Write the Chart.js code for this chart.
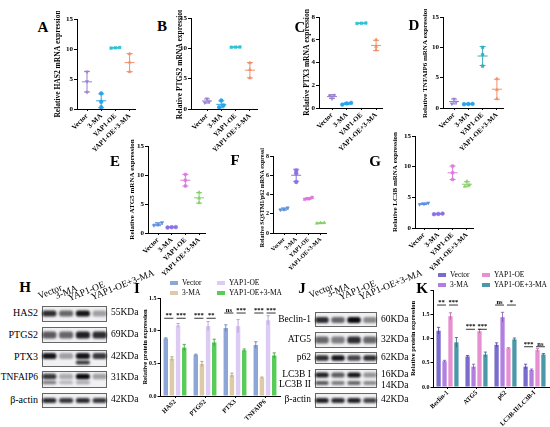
<!DOCTYPE html>
<html><head><meta charset="utf-8">
<script src="https://cdn.jsdelivr.net/npm/chart.js@4.4.1/dist/chart.umd.min.js"></script>
<style>
html,body{margin:0;padding:0;background:#fff;}
body{width:550px;height:427px;overflow:hidden;position:relative;font-family:'Liberation Serif','Times New Roman',serif;}
canvas{position:absolute;}
.t{position:absolute;white-space:nowrap;color:#000;line-height:1;}
.sw{position:absolute;}
</style></head><body>
<script>
// ---------- DATA ----------
const mrnaGroups = ['Vector','3-MA','YAP1-OE','YAP1-OE+3-MA'];
const has2Mrna    = [[6.2,4.6,2.8],[2.6,1.2,0.3],[10.25,10.2,10.15],[9.2,7.8,6.2]];
const ptgs2Mrna   = [[1.7,1.2,1.05],[1.4,0.6,0.3],[10.22,10.18,10.2],[7.6,6.5,5.1]];
const ptx3Mrna    = [[1.12,1.08,0.82],[0.3,0.4,0.45],[7.47,7.45,7.43],[6.0,5.4,5.1]];
const tnfaip6Mrna = [[1.5,1.0,0.7],[0.66,0.63,0.68],[10.0,8.8,6.9],[4.8,3.0,1.5]];
const atg5Mrna    = [[1.8,1.45,1.3],[1.0,0.95,1.02],[10.1,9.1,8.1],[7.0,6.0,5.2]];
const sqstm1Mrna  = [[2.62,2.45,2.4],[6.5,6.2,5.3],[3.7,3.55,3.5],[1.06,1.0,1.04]];
const lc3bMrna    = [[4.1,3.92,3.85],[2.3,2.25,2.35],[10.1,9.0,7.9],[7.6,7.0,6.8]];

const proteinCatsI = ['HAS2','PTGS2','PTX3','TNFAIP6'];
const vectorI = [0.88,0.63,1.04,0.78];
const maI     = [0.57,0.49,0.32,0.28];
const oeI     = [1.08,1.07,1.07,1.16];
const oemaI   = [0.74,0.82,0.70,0.62];
const sdI = [[0.01,0.01,0.05,0.05],[0.03,0.04,0.03,0.01],[0.03,0.07,0.10,0.07],[0.05,0.05,0.02,0.04]];
const sigI = [['**','***'],['***','**'],['ns','***'],['***','***']];
const sigLevelI = [1.19,1.19,1.27,1.27];

const proteinCatsK = ['Beclin-1','ATG5','p62','LC3B-II/LC3B-I'];
const vectorK = [1.16,0.63,0.87,0.42];
const maK     = [0.53,0.42,1.44,0.35];
const oeK     = [1.46,1.15,0.80,0.76];
const oemaK   = [0.92,0.67,0.98,0.67];
const sdK = [[0.07,0.02,0.04,0.05],[0.02,0.05,0.10,0.02],[0.07,0.04,0.01,0.03],[0.10,0.05,0.03,0.02]];
const sigK = [['**','***'],['***','***'],['ns','*'],['***','ns']];
const sigLevelK = [1.69,1.19,1.69,0.83];

// blot band intensities (lanes: Vector, 3-MA, YAP1-OE, YAP1-OE+3-MA)
const has2Band     = [0.85,0.6,0.95,0.35];
const ptgs2Band    = [0.65,0.6,0.9,0.85];
const ptx3Band     = [0.95,0.35,0.95,0.8];
const ptx3Lower    = [0,0,0.8,0];
const tnfaip6Band  = [0.8,0.3,1.0,0.35];
const tnfaip6Lower = [0.5,0.25,0.3,0];
const actinH       = [0.85,0.8,0.85,0.8];
const beclinBand   = [0.85,0.6,1.0,0.45];
const atg5Band     = [0.6,0.5,0.85,0.6];
const p62Band      = [0.85,0.95,0.75,0.85];
const lc3bIBand    = [0.9,0.65,0.95,0.4];
const lc3bIIBand   = [0.65,0.5,0.6,0.45];
const actinJ       = [0.9,0.85,0.9,0.75];

// ---------- STYLE ----------
const topColors = ['#9a80d0','#28a4ec','#2cc2d6','#f0906a'];
const midColors = ['#5b8fe0','#8c72e6','#e078e0','#86d068'];
const shapes = ['triangle','circle','rect','triangle'];
const colorsI = ['#8ca6d8','#dccaa8','#dccbf2','#58cc58'];
const errI    = ['#5a78b0','#a8926c','#a890d0','#2f9a2f'];
const colorsK = ['#7a6ccc','#b27ee0','#e690d2','#4a98a8'];
const errK    = ['#4a3ca0','#8050b0','#b8609f','#2a6878'];

const FONT = "'Liberation Serif','Times New Roman',serif";
Chart.defaults.font.family = FONT;
Chart.defaults.color = '#000';
Chart.defaults.animation = false;
Chart.defaults.responsive = false;
Chart.defaults.plugins.legend.display = false;
Chart.defaults.plugins.tooltip.enabled = false;

function mkCanvas(l,t,w,h){
  const c=document.createElement('canvas');
  c.width=w;c.height=h;
  c.style.left=l+'px';c.style.top=t+'px';c.style.width=w+'px';c.style.height=h+'px';
  document.body.appendChild(c);return c;
}
function T(s,x,y,o={}){
  const d=document.createElement('div');d.className='t';d.textContent=s;
  d.style.fontSize=(o.size||10)+'px';
  if(o.bold) d.style.fontWeight='bold';
  d.style.left=x+'px';d.style.top=y+'px';
  const tx=o.align==='r'?'-100%':(o.align==='c'?'-50%':'0');
  d.style.transform=`translate(${tx},-50%)`;
  document.body.appendChild(d);return d;
}
function R(s,x,y,size,rot){
  const d=document.createElement('div');d.className='t';d.textContent=s;
  d.style.fontSize=size+'px';
  d.style.left=x+'px';d.style.top=(y-size*0.85)+'px';
  d.style.transformOrigin='0 85%';
  d.style.transform=`rotate(${rot}deg)`;
  document.body.appendChild(d);
}
function swatch(x,y,c){
  const d=document.createElement('div');d.className='sw';
  d.style.left=x+'px';d.style.top=(y-2)+'px';d.style.width='8px';d.style.height='4px';d.style.background=c;
  document.body.appendChild(d);
}
const mean=a=>a.reduce((s,v)=>s+v,0)/a.length;
const sd=a=>{const m=mean(a);return Math.sqrt(a.reduce((s,v)=>s+(v-m)*(v-m),0)/(a.length-1));};
function line(ctx,x1,y1,x2,y2){ctx.beginPath();ctx.moveTo(x1,y1);ctx.lineTo(x2,y2);ctx.stroke();}

// jitter only where replicate values coincide
function jitter(r,thr){
  const idx=r.map((v,i)=>i).sort((a,b)=>r[a]-r[b]);
  const off=new Array(r.length).fill(0);
  let cl=[idx[0]];
  const flush=()=>{cl.forEach((k,j)=>{off[k]=(j-(cl.length-1)/2)*0.3;});};
  for(let i=1;i<idx.length;i++){
    if(r[idx[i]]-r[idx[i-1]]<thr) cl.push(idx[i]); else {flush();cl=[idx[i]];}
  }
  flush();return off;
}

function meanSdPlugin(reps,colors){
  return {id:'meanSd',afterDatasetsDraw(chart){
    const {ctx,scales:{x,y}}=chart;
    reps.forEach((r,i)=>{
      const m=mean(r),s=sd(r),px=x.getPixelForValue(i);
      ctx.save();ctx.strokeStyle=colors[i];ctx.lineWidth=1;
      line(ctx,px-5,y.getPixelForValue(m),px+5,y.getPixelForValue(m));
      if(s>0.02){
        const yt=y.getPixelForValue(m+s),yb=y.getPixelForValue(m-s);
        line(ctx,px,yt,px,yb);line(ctx,px-3,yt,px+3,yt);line(ctx,px-3,yb,px+3,yb);
      }
      ctx.restore();
    });
  }};
}

function scatterPanel(p){
  const a=p.area,tf=p.titleFont||7.5,lh=tf*1.2;
  const cl=Math.round(p.titleX-lh/2),ct=a.t-8,cr=a.r+6,cb=a.b+52;
  const cv=mkCanvas(cl,ct,cr-cl,cb-ct);
  const thr=p.yMax*0.03;
  const datasets=p.reps.map((r,gi)=>{
    const off=jitter(r,thr);
    return {data:r.map((v,k)=>({x:gi+off[k],y:v})),backgroundColor:p.colors[gi],borderColor:p.colors[gi],
      pointStyle:shapes[gi],pointRadius:1.9,pointBorderWidth:0.5,rotation:gi===0?180:0};
  });
  const tickF={size:p.tickFont||7,weight:'bold'};
  new Chart(cv,{type:'scatter',data:{datasets},options:{
    layout:{padding:{top:8,right:6,left:0,bottom:0}},
    scales:{
      x:{type:'linear',min:(a.l-p.xFirst)/p.xStep,max:(a.r-p.xFirst)/p.xStep,
        afterBuildTicks:s=>{s.ticks=mrnaGroups.map((c,i)=>({value:i}));},
        afterFit:s=>{s.height=52;},
        ticks:{autoSkip:false,minRotation:45,maxRotation:45,padding:1,font:{size:p.xFont||7,weight:'bold'},
          callback:v=>mrnaGroups[v]!==undefined?mrnaGroups[v]:''},
        grid:{display:true,drawOnChartArea:false,drawTicks:true,tickLength:2,color:'#000'},
        border:{color:'#000',width:1}},
      y:{min:0,max:p.yMax,
        afterFit:s=>{s.width=a.l-cl;},
        ticks:{stepSize:p.yStep,padding:1,font:tickF},
        title:{display:true,text:p.title,font:{size:tf,weight:'bold'},padding:0},
        grid:{display:true,drawOnChartArea:false,drawTicks:true,tickLength:3,color:'#000'},
        border:{color:'#000',width:1}}
    }}, plugins:[meanSdPlugin(p.reps,p.colors)]});
}

function barExtras(sds,errColors,sig,levels){
  return {id:'barExtras',afterDatasetsDraw(chart){
    const {ctx,scales:{y}}=chart;
    ctx.save();
    chart.data.datasets.forEach((ds,i)=>{
      chart.getDatasetMeta(i).data.forEach((bar,j)=>{
        const v=ds.data[j],s=sds[i][j];
        const yt=y.getPixelForValue(v+s),yb=y.getPixelForValue(Math.max(0,v-s));
        ctx.strokeStyle=errColors[i];ctx.lineWidth=0.8;
        line(ctx,bar.x,yb,bar.x,yt);line(ctx,bar.x-1.6,yt,bar.x+1.6,yt);
      });
    });
    ctx.strokeStyle='#000';ctx.fillStyle='#000';ctx.lineWidth=0.8;
    ctx.font=`bold 6.5px ${FONT}`;ctx.textAlign='center';ctx.textBaseline='bottom';
    sig.forEach((pair,j)=>{
      const yy=y.getPixelForValue(levels[j]);
      [[0,1],[2,3]].forEach(([a,b],k)=>{
        const xa=chart.getDatasetMeta(a).data[j].x,xb=chart.getDatasetMeta(b).data[j].x;
        line(ctx,xa-1.5,yy,xb+1.5,yy);
        ctx.fillText(pair[k],(xa+xb)/2,yy+0.5);
      });
    });
    ctx.restore();
  }};
}

function barPanel(p){
  const a=p.area,tf=6.5,lh=tf*1.2;
  const cl=Math.round(p.titleX-lh/2),ct=a.t-6,cr=a.r+3,cb=a.b+45;
  const cv=mkCanvas(cl,ct,cr-cl,cb-ct);
  new Chart(cv,{type:'bar',data:{labels:p.cats,datasets:p.series.map((d,i)=>({data:d,backgroundColor:p.colors[i],
    barPercentage:0.72,categoryPercentage:0.82}))},
    options:{layout:{padding:{top:6,right:3,left:0,bottom:0}},
    scales:{
      x:{offset:true,afterFit:s=>{s.height=45;},
        ticks:{autoSkip:false,minRotation:45,maxRotation:45,padding:0,font:{size:6.5,weight:'bold'}},
        grid:{display:true,offset:false,drawOnChartArea:false,drawTicks:true,tickLength:2,color:'#000'},
        border:{color:'#000',width:1}},
      y:{min:0,max:p.yMax,afterFit:s=>{s.width=a.l-cl;},
        ticks:{stepSize:0.5,padding:1,font:{size:6,weight:'bold'},callback:v=>(p.hideTop&&v===p.yMax)?'':v.toFixed(1)},
        title:{display:true,text:'Relative protein expression',font:{size:tf,weight:'bold'},padding:0},
        grid:{display:true,drawOnChartArea:false,drawTicks:true,tickLength:2.5,color:'#000'},
        border:{color:'#000',width:1}}
    }}, plugins:[barExtras(p.sds,p.err,p.sig,p.levels)]});
}

function blotPanel(p){
  const cl=p.l-1,w=p.r-p.l+2,h=p.b-p.t;
  const cv=mkCanvas(cl,p.t,w,h);
  const plug={id:'membrane',
    beforeDatasetsDraw(chart){
      const ctx=chart.ctx;ctx.save();
      p.rows.forEach(([t0,t1])=>{
        ctx.fillStyle='#f1f1f4';ctx.fillRect(1,t0-p.t,w-2,t1-t0);
        ctx.strokeStyle='#666';ctx.lineWidth=1;ctx.strokeRect(1.5,t0-p.t+0.5,w-3,t1-t0-1);
      });
      ctx.restore();
      ctx.save();ctx.filter='blur(0.8px)';
    },
    afterDatasetsDraw(chart){chart.ctx.restore();}};
  new Chart(cv,{type:'bar',data:{labels:mrnaGroups,datasets:p.bands.map(b=>({
      data:b.data.map(()=>[b.c-b.h/2,b.c+b.h/2]),
      backgroundColor:b.data.map(v=>`rgba(10,10,14,${v})`),
      grouped:false,barPercentage:0.84,categoryPercentage:1,borderRadius:2.5,borderSkipped:false}))},
    options:{layout:{padding:0},scales:{
      x:{display:false,offset:true},
      y:{display:false,min:p.t,max:p.b,reverse:true}}},
    plugins:[plug]});
}

// ---------- TOP ROW ----------
scatterPanel({area:{l:77,r:135,t:19,b:109},xFirst:87,xStep:14.2,titleX:58,yMax:15,yStep:5,
  reps:has2Mrna,colors:topColors,title:'Relative HAS2 mRNA expression'});
scatterPanel({area:{l:191,r:257,t:18,b:109},xFirst:207,xStep:14.3,titleX:180,yMax:15,yStep:5,
  reps:ptgs2Mrna,colors:topColors,title:'Relative PTGS2 mRNA expression'});
scatterPanel({area:{l:319,r:382,t:17,b:108},xFirst:332,xStep:14.7,titleX:307,yMax:8,yStep:2,
  reps:ptx3Mrna,colors:topColors,title:'Relative PTX3 mRNA expression'});
scatterPanel({area:{l:443,r:503,t:17,b:108},xFirst:454,xStep:14.3,titleX:425,yMax:15,yStep:5,titleFont:7,
  reps:tnfaip6Mrna,colors:['#9a80d0','#28a4ec','#3aaeb8','#f0906a'],title:'Relative TNFAIP6 mRNA expression'});
// ---------- MIDDLE ROW ----------
scatterPanel({area:{l:148,r:205,t:146,b:233},xFirst:158,xStep:13.7,titleX:132,yMax:15,yStep:5,titleFont:7,
  reps:atg5Mrna,colors:midColors,title:'Relative ATG5 mRNA expression'});
scatterPanel({area:{l:273,r:326,t:156,b:233},xFirst:284,xStep:12.2,titleX:263,yMax:8,yStep:2,titleFont:6,xFont:6,tickFont:6,
  reps:sqstm1Mrna,colors:midColors,title:'Relative SQSTM1/p62 mRNA expression'});
scatterPanel({area:{l:415,r:473,t:136,b:228},xFirst:424,xStep:14.3,titleX:395,yMax:15,yStep:5,titleFont:7,
  reps:lc3bMrna,colors:midColors,title:'Relative LC3B mRNA expression'});

// ---------- BAR CHARTS ----------
barPanel({area:{l:160,r:280,t:298,b:396},titleX:145,yMax:1.5,cats:proteinCatsI,
  series:[vectorI,maI,oeI,oemaI],sds:sdI,colors:colorsI,err:errI,sig:sigI,levels:sigLevelI});
barPanel({area:{l:433,r:549,t:290,b:387},titleX:413,yMax:2.0,hideTop:true,cats:proteinCatsK,
  series:[vectorK,maK,oeK,oemaK],sds:sdK,colors:colorsK,err:errK,sig:sigK,levels:sigLevelK});

// ---------- BLOTS ----------
blotPanel({l:42,r:107,t:305,b:409,
  rows:[[306,322],[327,343],[350,367],[371,388],[393,408]],
  bands:[{c:313.5,h:6,data:has2Band},{c:335,h:7,data:ptgs2Band},{c:356,h:6,data:ptx3Band},{c:362.5,h:4,data:ptx3Lower},
         {c:376.5,h:5.5,data:tnfaip6Band},{c:382.5,h:3.5,data:tnfaip6Lower},{c:400.5,h:5,data:actinH}]});
blotPanel({l:315,r:377,t:311,b:409,
  rows:[[312,327],[332,348],[352,364],[369,388],[393,408]],
  bands:[{c:320,h:6,data:beclinBand},{c:340,h:7,data:atg5Band},{c:358,h:5.5,data:p62Band},
         {c:375,h:5,data:lc3bIBand},{c:383,h:4,data:lc3bIIBand},{c:400.5,h:5,data:actinJ}]});

// ---------- TEXT ----------
[['A',43,27],['B',162,26],['C',300,27],['D',414,25],['E',115,161],['F',235,160],['G',375,161],
 ['H',25,287],['I',137,288],['J',302,288],['K',422,288]].forEach(([s,x,y])=>T(s,x,y,{size:15,bold:true,align:'c'}));

// blot H labels
[['HAS2',313],['PTGS2',335],['PTX3',357],['TNFAIP6',378],['β-actin',400]].forEach(([s,y])=>T(s,38,y,{size:s==='TNFAIP6'?9.5:10,align:'r'}));
[['55KDa',313],['69KDa',335],['42KDa',357],['31KDa',378],['42KDa',400]].forEach(([s,y])=>T(s,111,y,{size:9.5}));
[['Vector',40,300],['3-MA',57,300],['YAP1-OE',70,302],['YAP1-OE+3-MA',93,301]].forEach(([s,x,y])=>R(s,x,y,9.5,-22));
// blot J labels
[['Beclin-1',320],['ATG5',340],['p62',358],['LC3B I',375],['LC3B II',385],['β-actin',400]].forEach(([s,y])=>T(s,311,y,{size:9.5,align:'r'}));
[['60KDa',320],['32KDa',340],['62KDa',358],['16KDa',375],['14KDa',386],['42KDa',400]].forEach(([s,y])=>T(s,381,y,{size:9.5}));
[['Vector',311,299],['3-MA',329,298],['YAP1-OE',341,301],['YAP1-OE+3-MA',361,301]].forEach(([s,x,y])=>R(s,x,y,9.5,-22));

// legends
const legI=[[170,283,0],[170,293,1],[217,283,2],[217,293,3]];
legI.forEach(([x,y,i])=>{swatch(x,y,colorsI[i]);T(mrnaGroups[i],x+12,y,{size:7.5});});
const legK=[[438,275,0],[438,285,1],[482,275,2],[482,285,3]];
legK.forEach(([x,y,i])=>{swatch(x,y,colorsK[i]);T(mrnaGroups[i],x+12,y,{size:7.5});});
</script>
</body></html>
